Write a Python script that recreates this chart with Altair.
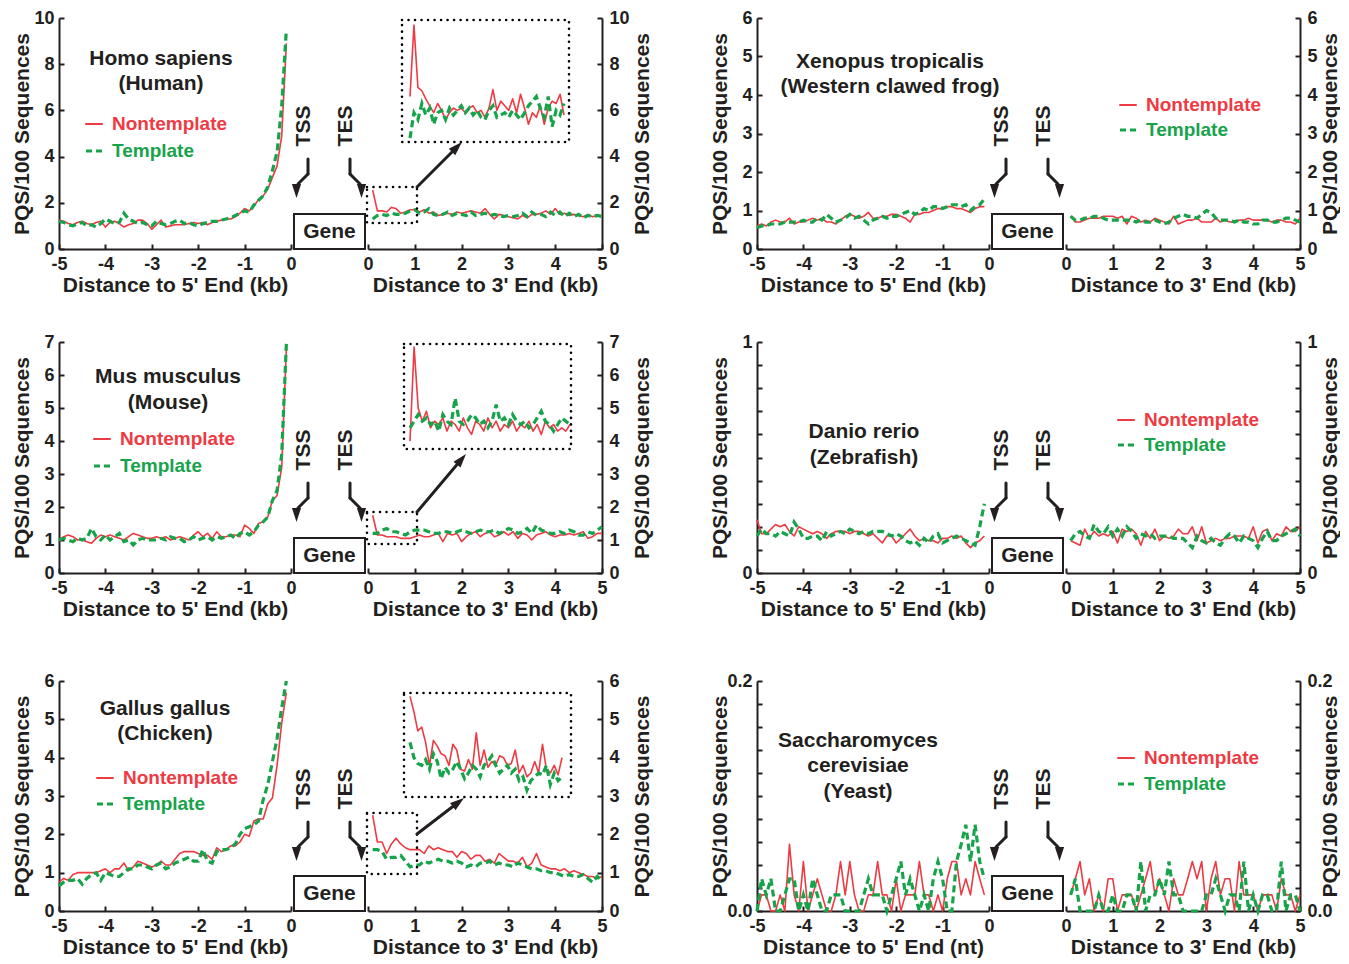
import altair as alt
import pandas as pd

FONT = "Liberation Sans"
RED = "#EE3A43"
GREEN = "#17A34A"
INK = "#231F20"

# ---------------- x positions (kb) ----------------
X_LEFT = [round(-5.0 + 0.1 * i, 1) for i in range(50)]
X_RIGHT = [round(0.1 + 0.1 * i, 1) for i in range(50)]
INSET_N = 40
X_INSET = [i / (INSET_N - 1) for i in range(INSET_N)]

# ---------------- Homo sapiens ----------------
HUMAN_L_NT = [1.25, 1.2, 1.1, 1.05, 1.15, 1.2, 1.1, 1.05, 1.15, 1.2,
              0.95, 1.15, 1.2, 1.1, 0.95, 1.05, 1.1, 1.25, 1.25, 1.1,
              0.85, 1.05, 1.25, 0.95, 1.0, 1.05, 1.05, 1.05, 1.1, 1.15,
              1.1, 1.15, 1.05, 1.15, 1.2, 1.25, 1.3, 1.3, 1.4, 1.55,
              1.75, 1.65, 1.85, 2.15, 2.3, 2.6, 3.1, 3.6, 4.9, 8.9]
HUMAN_L_T = [1.2, 1.15, 1.05, 1.0, 1.1, 1.15, 1.0, 1.05, 0.95, 1.1,
             1.3, 1.2, 1.1, 1.15, 1.55, 1.3, 1.2, 1.1, 1.15, 1.05,
             1.0, 1.2, 1.1, 1.05, 1.1, 1.2, 1.25, 1.1, 1.15, 1.05,
             1.0, 1.1, 1.15, 1.2, 1.2, 1.25, 1.3, 1.35, 1.45, 1.55,
             1.65, 1.6, 1.9, 2.1, 2.3, 2.7, 3.4, 4.2, 6.2, 9.5]
HUMAN_R_NT = [2.55, 1.65, 1.65, 1.6, 1.8, 1.75, 1.55, 1.6, 1.7, 1.7,
              1.6, 1.7, 1.55, 1.6, 1.45, 1.5, 1.55, 1.5, 1.6, 1.55,
              1.6, 1.65, 1.6, 1.55, 1.75, 1.5, 1.3, 1.5, 1.45, 1.4,
              1.35, 1.3, 1.45, 1.35, 1.5, 1.5, 1.55, 1.65, 1.5, 1.75,
              1.5, 1.55, 1.45, 1.5, 1.45, 1.4, 1.5, 1.4, 1.45, 1.45]
HUMAN_R_T = [1.3, 1.45, 1.5, 1.45, 1.55, 1.5, 1.5, 1.55, 1.65, 1.7,
             1.55, 1.6, 1.75, 1.5, 1.45, 1.5, 1.6, 1.45, 1.55, 1.5,
             1.45, 1.6, 1.45, 1.5, 1.55, 1.45, 1.5, 1.45, 1.4, 1.45,
             1.4, 1.45, 1.55, 1.4, 1.6, 1.45, 1.5, 1.4, 1.6, 1.45,
             1.6, 1.4, 1.55, 1.4, 1.5, 1.35, 1.45, 1.4, 1.45, 1.4]
HUMAN_IN_NT = [6.6, 9.7, 7.0, 6.85, 6.5, 6.2, 5.9, 6.3, 6.0, 5.6,
               5.9, 6.1, 6.0, 6.1, 5.9, 6.1, 6.2, 5.9, 6.0, 5.7,
               6.1, 6.9, 6.0, 6.4, 6.2, 6.0, 6.5, 5.9, 6.7, 6.1,
               5.4, 5.9, 5.7, 6.2, 5.4, 6.1, 6.4, 6.3, 6.7, 5.8]
HUMAN_IN_T = [4.8, 5.9, 5.6, 6.3, 5.8, 6.1, 5.4, 5.9, 6.0, 5.6,
              6.1, 5.8, 6.0, 6.2, 5.9, 6.1, 5.8, 6.0, 5.7, 5.6,
              6.0, 6.2, 5.7, 5.8, 5.9, 5.7, 6.0, 5.8, 5.6, 5.9,
              6.2, 6.4, 6.6, 6.1, 5.7, 6.6, 5.3, 6.0, 5.8, 6.3]

# ---------------- Mus musculus ----------------
MOUSE_L_NT = [1.0, 1.1, 1.15, 1.1, 1.0, 1.0, 0.95, 0.9, 1.05, 1.15,
              1.1, 1.15, 1.1, 1.05, 1.0, 1.1, 1.2, 1.15, 1.1, 1.05,
              1.05, 1.1, 1.05, 1.1, 1.0, 1.05, 1.1, 1.05, 1.0, 1.15,
              1.25, 1.1, 1.2, 1.05, 1.25, 1.1, 1.1, 1.15, 1.15, 1.1,
              1.45, 1.35, 1.2, 1.5, 1.55, 1.7, 2.2, 2.35, 3.2, 6.8]
MOUSE_L_T = [1.0, 1.05, 1.0, 0.95, 1.05, 1.0, 1.05, 1.35, 1.1, 1.0,
             1.15, 1.0, 1.1, 1.2, 0.95, 1.0, 0.85, 1.0, 1.05, 1.0,
             1.0, 1.0, 1.05, 1.0, 1.1, 1.05, 1.05, 0.95, 1.0, 1.1,
             1.0, 1.05, 1.1, 1.0, 1.1, 1.05, 1.1, 1.15, 1.05, 1.2,
             1.25, 1.15, 1.25, 1.45, 1.55, 1.7, 2.2, 2.5, 3.6, 6.95]
MOUSE_R_NT = [1.75, 1.15, 1.15, 1.1, 1.1, 1.1, 1.05, 1.05, 1.05, 1.1,
              1.15, 1.1, 1.1, 1.15, 1.2, 0.95, 1.2, 1.15, 1.2, 0.95,
              1.1, 1.2, 1.25, 1.1, 1.2, 1.25, 1.1, 1.15, 1.25, 1.15,
              1.25, 1.05, 1.2, 1.15, 1.0, 1.15, 1.2, 1.25, 1.15, 1.1,
              1.15, 1.15, 1.2, 1.15, 1.2, 1.25, 1.05, 1.1, 1.2, 1.2]
MOUSE_R_T = [1.2, 1.2, 1.3, 1.35, 1.25, 1.25, 1.2, 1.15, 1.25, 1.3,
             1.3, 1.3, 1.25, 1.2, 1.2, 1.25, 1.25, 1.2, 1.25, 1.3,
             1.25, 1.2, 1.25, 1.3, 1.25, 1.25, 1.3, 1.2, 1.25, 1.35,
             1.3, 1.2, 1.25, 1.35, 1.2, 1.45, 1.3, 1.25, 1.2, 1.2,
             1.25, 1.2, 1.3, 1.25, 1.15, 1.15, 1.25, 1.2, 1.3, 1.4]
MOUSE_IN_NT = [4.0, 6.85, 5.0, 4.6, 4.9, 4.4, 4.6, 4.5, 4.7, 4.3,
               4.6, 4.5, 4.3, 4.7, 4.4, 4.2, 4.6, 4.5, 4.3, 4.7,
               4.4, 4.6, 4.3, 4.5, 4.4, 4.6, 4.3, 4.5, 4.4, 4.6,
               4.3, 4.5, 4.2, 4.6, 4.4, 4.5, 4.3, 4.4, 4.3, 4.5]
MOUSE_IN_T = [4.4, 4.6, 4.8, 4.6, 4.7, 4.5, 4.6, 4.3, 4.8, 4.6,
              4.5, 5.3, 4.6, 4.5, 4.6, 4.8, 4.7, 4.5, 4.6, 4.4,
              4.6, 5.1, 4.6, 4.7, 4.5, 4.8, 4.6, 4.5, 4.6, 4.4,
              4.5, 4.7, 4.9, 4.6, 4.5, 4.3, 4.5, 4.7, 4.6, 4.5]

# ---------------- Gallus gallus ----------------
CHICKEN_L_NT = [0.75, 0.85, 0.8, 0.95, 1.0, 1.0, 1.0, 1.0, 1.0, 1.05,
                1.1, 1.0, 1.1, 1.1, 1.25, 1.05, 1.15, 1.3, 1.25, 1.2,
                1.15, 1.2, 1.3, 1.2, 1.2, 1.35, 1.5, 1.55, 1.55, 1.55,
                1.5, 1.45, 1.45, 1.35, 1.65, 1.55, 1.6, 1.7, 1.7, 1.8,
                2.0, 1.95, 2.35, 2.4, 2.4, 2.8, 2.95, 3.8, 4.9, 5.7]
CHICKEN_L_T = [0.65, 0.75, 0.8, 0.8, 0.85, 0.7, 0.85, 0.95, 1.0, 0.8,
               1.0, 0.95, 0.9, 0.9, 1.0, 1.1, 1.1, 1.2, 1.2, 1.15,
               1.1, 1.2, 1.25, 1.1, 1.15, 1.25, 1.3, 1.35, 1.4, 1.3,
               1.3, 1.6, 1.3, 1.25, 1.55, 1.6, 1.6, 1.65, 1.75, 2.0,
               2.15, 2.2, 2.25, 2.35, 2.9, 3.3, 3.9, 4.5, 5.3, 6.0]
CHICKEN_R_NT = [2.5, 1.8, 1.8, 1.5, 1.75, 1.9, 1.75, 1.65, 1.6, 1.6,
                1.6, 1.5, 1.7, 1.6, 1.65, 1.6, 1.55, 1.55, 1.4, 1.55,
                1.5, 1.35, 1.45, 1.45, 1.3, 1.35, 1.25, 1.5, 1.4, 1.3,
                1.3, 1.25, 1.4, 1.15, 1.25, 1.5, 1.2, 1.15, 1.1, 1.1,
                1.05, 1.1, 1.0, 1.05, 1.0, 0.95, 0.9, 0.9, 0.85, 0.9]
CHICKEN_R_T = [1.6, 1.6, 1.55, 1.35, 1.4, 1.4, 1.45, 1.3, 1.15, 1.2,
               1.2, 1.3, 1.25, 1.3, 1.35, 1.3, 1.3, 1.25, 1.3, 1.25,
               1.15, 1.2, 1.15, 1.25, 1.25, 1.3, 1.2, 1.25, 1.2, 1.2,
               1.15, 1.25, 1.2, 1.15, 1.1, 1.1, 1.05, 1.05, 1.0, 1.0,
               0.95, 0.9, 0.95, 0.9, 0.9, 0.95, 0.85, 0.75, 0.9, 0.8]
CHICKEN_IN_NT = [5.6, 5.2, 4.7, 4.8, 4.4, 3.8, 4.45, 4.3, 4.1, 4.05,
                 3.8, 4.35, 4.2, 3.7, 3.65, 3.95, 3.7, 4.65, 3.8, 4.2,
                 3.75, 3.9, 3.8, 4.05, 4.0, 3.8, 3.85, 4.2, 3.6, 3.8,
                 3.5, 3.6, 3.9, 3.6, 4.35, 3.7, 3.6, 3.8, 3.55, 4.0]
CHICKEN_IN_T = [4.4, 4.0, 3.85, 3.8, 3.95, 3.7, 4.1, 3.9, 3.45, 3.75,
                3.6, 3.7, 3.9, 3.7, 3.45, 3.6, 3.8, 3.7, 3.5, 3.8,
                3.9, 4.05, 3.8, 3.6, 3.7, 3.8, 3.6, 3.7, 3.4, 3.5,
                3.15, 3.4, 3.5, 3.6, 3.55, 3.8, 3.3, 3.6, 3.4, 3.5]

# ---------------- Xenopus tropicalis ----------------
FROG_L_NT = [0.6, 0.65, 0.6, 0.7, 0.75, 0.7, 0.7, 0.8, 0.65, 0.7,
             0.7, 0.75, 0.8, 0.75, 0.8, 0.7, 0.7, 0.65, 0.75, 0.85,
             0.9, 0.85, 0.8, 0.85, 0.95, 0.8, 0.8, 0.85, 0.85, 0.9,
             0.9, 0.85, 0.8, 0.7, 0.9, 0.9, 0.95, 0.95, 1.0, 1.05,
             1.05, 1.1, 1.1, 1.05, 1.05, 1.0, 0.95, 1.05, 1.1, 1.1]
FROG_L_T = [0.55, 0.6, 0.6, 0.65, 0.65, 0.65, 0.7, 0.7, 0.7, 0.7,
            0.75, 0.7, 0.7, 0.8, 0.75, 0.9, 0.8, 0.7, 0.75, 0.8,
            0.9, 0.8, 0.85, 0.75, 0.65, 0.75, 0.8, 0.85, 0.8, 0.85,
            0.85, 0.9, 0.95, 1.0, 0.9, 0.95, 1.05, 1.0, 1.1, 1.1,
            1.05, 1.1, 1.15, 1.15, 1.1, 1.15, 1.0, 1.1, 1.15, 1.3]
FROG_R_NT = [0.85, 0.7, 0.7, 0.75, 0.8, 0.8, 0.8, 0.85, 0.85, 0.85,
             0.8, 0.85, 0.65, 0.85, 0.8, 0.7, 0.75, 0.7, 0.8, 0.75,
             0.7, 0.65, 0.85, 0.65, 0.7, 0.75, 0.75, 0.8, 0.7, 0.7,
             0.7, 0.8, 0.7, 0.75, 0.7, 0.7, 0.75, 0.75, 0.8, 0.75,
             0.75, 0.75, 0.75, 0.7, 0.75, 0.75, 0.7, 0.7, 0.65, 0.8]
FROG_R_T = [0.85, 0.75, 0.75, 0.8, 0.8, 0.85, 0.85, 0.8, 0.75, 0.75,
            0.75, 0.75, 0.75, 0.75, 0.7, 0.75, 0.7, 0.7, 0.75, 0.7,
            0.65, 0.7, 0.8, 0.85, 0.9, 0.85, 0.85, 0.8, 0.9, 1.0,
            0.95, 0.8, 0.75, 0.75, 0.75, 0.7, 0.75, 0.7, 0.7, 0.65,
            0.65, 0.75, 0.75, 0.7, 0.7, 0.75, 0.8, 0.8, 0.75, 0.7]

# ---------------- Danio rerio ----------------
DANIO_L_NT = [0.23, 0.17, 0.17, 0.19, 0.21, 0.2, 0.21, 0.18, 0.16, 0.2,
              0.19, 0.18, 0.17, 0.18, 0.17, 0.15, 0.17, 0.18, 0.18, 0.18,
              0.17, 0.18, 0.18, 0.17, 0.16, 0.17, 0.15, 0.13, 0.16, 0.16,
              0.13, 0.15, 0.17, 0.19, 0.16, 0.14, 0.15, 0.14, 0.14, 0.13,
              0.15, 0.15, 0.16, 0.15, 0.16, 0.13, 0.11, 0.13, 0.14, 0.16]
DANIO_L_T = [0.16, 0.19, 0.17, 0.17, 0.16, 0.18, 0.17, 0.16, 0.22, 0.19,
             0.15, 0.15, 0.16, 0.16, 0.14, 0.18, 0.16, 0.17, 0.18, 0.17,
             0.19, 0.18, 0.17, 0.18, 0.17, 0.18, 0.18, 0.18, 0.17, 0.16,
             0.17, 0.16, 0.14, 0.13, 0.14, 0.12, 0.15, 0.13, 0.16, 0.17,
             0.13, 0.14, 0.15, 0.16, 0.15, 0.14, 0.13, 0.12, 0.2, 0.3]
DANIO_R_NT = [0.14, 0.13, 0.12, 0.19, 0.15, 0.18, 0.16, 0.17, 0.16, 0.18,
              0.13, 0.19, 0.18, 0.19, 0.17, 0.12, 0.18, 0.15, 0.19, 0.14,
              0.16, 0.15, 0.16, 0.19, 0.17, 0.17, 0.2, 0.14, 0.2, 0.13,
              0.14, 0.15, 0.14, 0.15, 0.15, 0.16, 0.16, 0.16, 0.15, 0.2,
              0.13, 0.18, 0.19, 0.14, 0.17, 0.16, 0.2, 0.18, 0.18, 0.2]
DANIO_R_T = [0.14, 0.17, 0.18, 0.16, 0.15, 0.21, 0.18, 0.17, 0.2, 0.16,
             0.19, 0.16, 0.2, 0.18, 0.15, 0.17, 0.16, 0.17, 0.15, 0.16,
             0.16, 0.16, 0.15, 0.15, 0.15, 0.13, 0.11, 0.16, 0.14, 0.13,
             0.15, 0.13, 0.12, 0.15, 0.17, 0.16, 0.13, 0.16, 0.15, 0.14,
             0.11, 0.15, 0.18, 0.14, 0.14, 0.16, 0.17, 0.18, 0.19, 0.16]

# ---------------- Saccharomyces cerevisiae ----------------
YEAST_L_NT = [0.0, 0.014, 0.014, 0.0, 0.0, 0.014, 0.0, 0.058, 0.014, 0.0,
              0.043, 0.0, 0.014, 0.028, 0.014, 0.0, 0.0, 0.014, 0.043, 0.014,
              0.043, 0.014, 0.0, 0.0, 0.014, 0.014, 0.043, 0.014, 0.014, 0.0,
              0.028, 0.0, 0.014, 0.014, 0.014, 0.043, 0.014, 0.014, 0.0, 0.014,
              0.0, 0.028, 0.043, 0.043, 0.014, 0.028, 0.014, 0.043, 0.028, 0.014]
YEAST_L_T = [0.0, 0.028, 0.014, 0.028, 0.0, 0.0, 0.014, 0.028, 0.028, 0.0,
             0.014, 0.0, 0.028, 0.014, 0.0, 0.0, 0.014, 0.014, 0.014, 0.0,
             0.0, 0.0, 0.0, 0.014, 0.028, 0.014, 0.014, 0.014, 0.0, 0.014,
             0.028, 0.043, 0.014, 0.028, 0.014, 0.0, 0.014, 0.0, 0.028, 0.043,
             0.028, 0.0, 0.0, 0.043, 0.058, 0.075, 0.043, 0.075, 0.043, 0.028]
YEAST_R_NT = [0.014, 0.028, 0.043, 0.014, 0.028, 0.0, 0.014, 0.0, 0.028, 0.028,
              0.0, 0.014, 0.014, 0.014, 0.0, 0.014, 0.028, 0.043, 0.014, 0.028,
              0.014, 0.0, 0.028, 0.014, 0.014, 0.028, 0.043, 0.028, 0.043, 0.0,
              0.028, 0.043, 0.014, 0.028, 0.028, 0.0, 0.043, 0.014, 0.014, 0.014,
              0.0, 0.014, 0.014, 0.014, 0.0, 0.028, 0.014, 0.014, 0.0, 0.014]
YEAST_R_T = [0.014, 0.028, 0.0, 0.0, 0.0, 0.0, 0.014, 0.0, 0.0, 0.014,
             0.0, 0.0, 0.014, 0.014, 0.0, 0.043, 0.0, 0.014, 0.014, 0.028,
             0.014, 0.043, 0.014, 0.014, 0.0, 0.0, 0.0, 0.0, 0.0, 0.014,
             0.014, 0.028, 0.014, 0.0, 0.014, 0.014, 0.0, 0.043, 0.0, 0.014,
             0.0, 0.014, 0.014, 0.0, 0.0, 0.043, 0.0, 0.014, 0.014, 0.0]

YVALS_HUMAN = [0, 2, 4, 6, 8, 10]
YVALS_MOUSE = [0, 1, 2, 3, 4, 5, 6, 7]
YVALS_SIX = [0, 1, 2, 3, 4, 5, 6]
YVALS_DANIO = [0, 0.1, 0.2, 0.3, 0.4, 0.5, 0.6, 0.7, 0.8, 0.9, 1.0]
YVALS_YEAST = [0, 0.02, 0.04, 0.06, 0.08, 0.1, 0.12, 0.14, 0.16, 0.18, 0.2]
XVALS_LEFT = [-5, -4, -3, -2, -1, 0]
XVALS_RIGHT = [0, 1, 2, 3, 4, 5]

ONE = pd.DataFrame({"k": [0]})
TICK = alt.ExprRef(expr="-5")
LW = 232
RW = 234


def y_axis(side, vals, expr=None, tx=29):
    kw = dict(orient=side, values=vals, title="PQS/100 Sequences", tickSize=TICK,
              labelOverlap=False, labelFlush=False, grid=False)
    if side == "left":
        kw.update(labelPadding=10, titleX=-27, titleBaseline="bottom", titleAngle=270)
    else:
        kw.update(labelPadding=12, titleX=tx, titleAngle=270, titleBaseline="top",
                  labelAlign="left")
    if expr:
        kw["labelExpr"] = expr
    return alt.Axis(**kw)


def x_axis(vals, title):
    return alt.Axis(orient="bottom", values=vals, title=title, labelExpr="'' + datum.value",
                    tickSize=TICK, labelPadding=11, titleY=42.5, titleBaseline="alphabetic",
                    labelFlush=False, labelOverlap=False, grid=False)


def line(xs, ys, xenc, yenc, red):
    df = pd.DataFrame({"x": xs, "y": ys})
    if red:
        m = alt.Chart(df).mark_line(color=RED, strokeWidth=1.6, strokeJoin="round")
    else:
        m = alt.Chart(df).mark_line(color=GREEN, strokeWidth=3.2, strokeDash=[7, 4])
    return m.encode(x=xenc, y=yenc)


def label(text, x, y, size=21, color=INK, angle=0, align="center"):
    return alt.Chart(ONE).mark_text(text=text, font=FONT, fontSize=size, fontWeight="bold",
                                    color=color, angle=angle, align=align,
                                    baseline="middle").encode(x=alt.value(x), y=alt.value(y))


def rule(x, y, x2, y2, color=INK, width=3.0, dash=None):
    kw = dict(color=color, strokeWidth=width, strokeCap="round")
    if dash:
        kw["strokeDash"] = dash
        kw["strokeCap"] = "butt"
    return alt.Chart(ONE).mark_rule(**kw).encode(x=alt.value(x), y=alt.value(y),
                                                  x2=alt.value(x2), y2=alt.value(y2))


def head(x, y, angle, size=200):
    return alt.Chart(ONE).mark_point(shape="M0,-1L0.65,1L-0.65,1Z", filled=True, color=INK,
                                     size=size, angle=angle, opacity=1,
                                     strokeWidth=0).encode(x=alt.value(x), y=alt.value(y))


def box(x, y, x2, y2, dotted):
    if dotted:
        m = alt.Chart(ONE).mark_rect(filled=False, color="black", strokeWidth=2.6,
                                     strokeDash=[0.01, 6.5], strokeCap="round")
    else:
        m = alt.Chart(ONE).mark_rect(fill="white", stroke=INK, strokeWidth=2)
    return m.encode(x=alt.value(x), y=alt.value(y), x2=alt.value(x2), y2=alt.value(y2))


def gene_annots(h):
    return [label("TSS", 245, 108, angle=270), label("TES", 287, 108, angle=270),
            rule(249, 141, 249, 156), rule(249, 156, 239, 166), head(237.5, 173, 180),
            rule(291, 141, 291, 156), rule(291, 156, 301, 166), head(302.5, 173, 180),
            box(235, h - 35, 306, h, False), label("Gene", 270.5, h - 17)]


def legend(x0, y0, dy):
    return [rule(x0, y0, x0 + 16, y0, RED, 2),
            label("Nontemplate", x0 + 26, y0, 19, RED, align="left"),
            rule(x0, y0 + dy, x0 + 16, y0 + dy, GREEN, 3, [6, 4]),
            label("Template", x0 + 26, y0 + dy, 19, GREEN, align="left")]


def make_panel(p):
    h = p["h"]
    ysc = alt.Scale(domain=[0, p["ymax"]], nice=False, zero=True)
    yL = alt.Y("y:Q", scale=ysc, axis=y_axis("left", p["yvals"], p.get("yexpr")))
    yR = alt.Y("y:Q", scale=ysc, axis=y_axis("right", p["yvals"], p.get("yexpr"), p["rtx"]))
    xL = alt.X("x:Q", scale=alt.Scale(domain=[-5, 0], nice=False, zero=False),
               axis=x_axis(XVALS_LEFT, p["xtitle"]))
    xR = alt.X("x:Q", scale=alt.Scale(domain=[0, 5], nice=False, zero=False),
               axis=x_axis(XVALS_RIGHT, "Distance to 3' End (kb)"))

    left_layers = [line(X_LEFT, p["l_nt"], xL, yL, True), line(X_LEFT, p["l_t"], xL, yL, False)]
    for (t, x, y) in p["title"]:
        left_layers.append(label(t, x, y))
    left_layers += gene_annots(h)
    if p["legend_side"] == "left":
        left_layers += legend(*p["legend"])
    left = alt.layer(*left_layers).properties(width=LW, height=h)

    main = alt.layer(line(X_RIGHT, p["r_nt"], xR, yR, True),
                     line(X_RIGHT, p["r_t"], xR, yR, False))
    right_layers = [main]
    ins = p.get("inset")
    if ins:
        xI = alt.X("x:Q", scale=alt.Scale(domain=[0, 1], range=ins["range"], nice=False,
                                          zero=False), axis=None)
        right_layers.append(alt.layer(line(X_INSET, ins["nt"], xI, yR, True),
                                      line(X_INSET, ins["t"], xI, yR, False)))
        sb, bb, ar = ins["small"], ins["big"], ins["arrow"]
        right_layers += [box(*sb, True), box(*bb, True),
                         rule(ar[0], ar[1], ar[2], ar[3]), head(ar[2], ar[3], ar[4], 196)]
    if p["legend_side"] == "right":
        right_layers += legend(*p["legend"])
    right = alt.layer(*right_layers)
    if ins:
        right = right.resolve_scale(x="independent")
    right = right.properties(width=RW, height=h)
    return left, right


PANELS = {
    "human": dict(h=231, ymax=10, yvals=YVALS_HUMAN, xtitle="Distance to 5' End (kb)", rtx=29,
                  l_nt=HUMAN_L_NT, l_t=HUMAN_L_T, r_nt=HUMAN_R_NT, r_t=HUMAN_R_T,
                  title=[("Homo sapiens", 102, 41), ("(Human)", 102, 66)],
                  legend_side="left", legend=(27, 106, 27),
                  inset=dict(nt=HUMAN_IN_NT, t=HUMAN_IN_T, range=[42, 196],
                             small=(-1, 169, 49, 205), big=(34, 2, 201, 124),
                             arrow=(49, 169, 89, 129, 45))),
    "mouse": dict(h=231, ymax=7, yvals=YVALS_MOUSE, xtitle="Distance to 5' End (kb)", rtx=29,
                  l_nt=MOUSE_L_NT, l_t=MOUSE_L_T, r_nt=MOUSE_R_NT, r_t=MOUSE_R_T,
                  title=[("Mus musculus", 109, 35), ("(Mouse)", 109, 61)],
                  legend_side="left", legend=(35, 97, 27),
                  inset=dict(nt=MOUSE_IN_NT, t=MOUSE_IN_T, range=[42, 202],
                             small=(-1, 170, 49, 202), big=(36, 2, 203, 107),
                             arrow=(49, 170, 93.5, 117.3, 40))),
    "chicken": dict(h=230, ymax=6, yvals=YVALS_SIX, xtitle="Distance to 5' End (kb)", rtx=29,
                    l_nt=CHICKEN_L_NT, l_t=CHICKEN_L_T, r_nt=CHICKEN_R_NT, r_t=CHICKEN_R_T,
                    title=[("Gallus gallus", 106, 28), ("(Chicken)", 106, 53)],
                    legend_side="left", legend=(38, 97, 26),
                    inset=dict(nt=CHICKEN_IN_NT, t=CHICKEN_IN_T, range=[42, 194],
                               small=(-1, 132, 49, 193), big=(36, 12, 203, 116),
                               arrow=(49, 153, 90.4, 121.3, 53))),
    "frog": dict(h=231, ymax=6, yvals=YVALS_SIX, xtitle="Distance to 5' End (kb)", rtx=19,
                 l_nt=FROG_L_NT, l_t=FROG_L_T, r_nt=FROG_R_NT, r_t=FROG_R_T,
                 title=[("Xenopus tropicalis", 133, 44), ("(Western clawed frog)", 133, 69)],
                 legend_side="right", legend=(54, 87, 25)),
    "danio": dict(h=231, ymax=1, yvals=YVALS_DANIO, xtitle="Distance to 5' End (kb)", rtx=19,
                  yexpr="(datum.value < 0.001 || datum.value > 0.999) ? '' + datum.value : ''",
                  l_nt=DANIO_L_NT, l_t=DANIO_L_T, r_nt=DANIO_R_NT, r_t=DANIO_R_T,
                  title=[("Danio rerio", 107, 90), ("(Zebrafish)", 107, 116)],
                  legend_side="right", legend=(52, 78, 25)),
    "yeast": dict(h=230, ymax=0.2, yvals=YVALS_YEAST, xtitle="Distance to 5' End (nt)", rtx=19,
                  yexpr="(datum.value < 0.001 || datum.value > 0.199) ? format(datum.value, '.1f') : ''",
                  l_nt=YEAST_L_NT, l_t=YEAST_L_T, r_nt=YEAST_R_NT, r_t=YEAST_R_T,
                  title=[("Saccharomyces", 101, 60), ("cerevisiae", 101, 85), ("(Yeast)", 101, 111)],
                  legend_side="right", legend=(52, 77, 26)),
}


def spacer(w, h):
    return alt.Chart(ONE).mark_point(opacity=0, size=1).encode(
        x=alt.value(0), y=alt.value(h)).properties(width=w, height=h)


def spacer_row(h):
    return [spacer(LW, h), spacer(RW, h), spacer(1, h), spacer(LW, h), spacer(RW, h)]


hl, hr = make_panel(PANELS["human"])
fl, fr = make_panel(PANELS["frog"])
ml, mr = make_panel(PANELS["mouse"])
dl, dr = make_panel(PANELS["danio"])
cl, cr = make_panel(PANELS["chicken"])
yl, yr = make_panel(PANELS["yeast"])

cells = ([hl, hr, spacer(1, 231), fl, fr] + spacer_row(13) +
         [ml, mr, spacer(1, 231), dl, dr] + spacer_row(28) +
         [cl, cr, spacer(1, 230), yl, yr])

chart = alt.concat(*cells, columns=5, spacing={"row": 40, "column": 77},
                   bounds="flush").configure_view(stroke=None).configure_axis(
    labelFont=FONT, labelFontSize=18, labelFontWeight="bold", labelColor=INK,
    titleFont=FONT, titleFontSize=21, titleFontWeight="bold", titleColor=INK,
    domainColor=INK, domainWidth=2, tickColor=INK, tickWidth=2, grid=False
).properties(background="white", padding={"left": 2, "top": 1, "right": 0, "bottom": 0})

chart.save("out.html", embed_options={"renderer": "svg", "actions": False})
